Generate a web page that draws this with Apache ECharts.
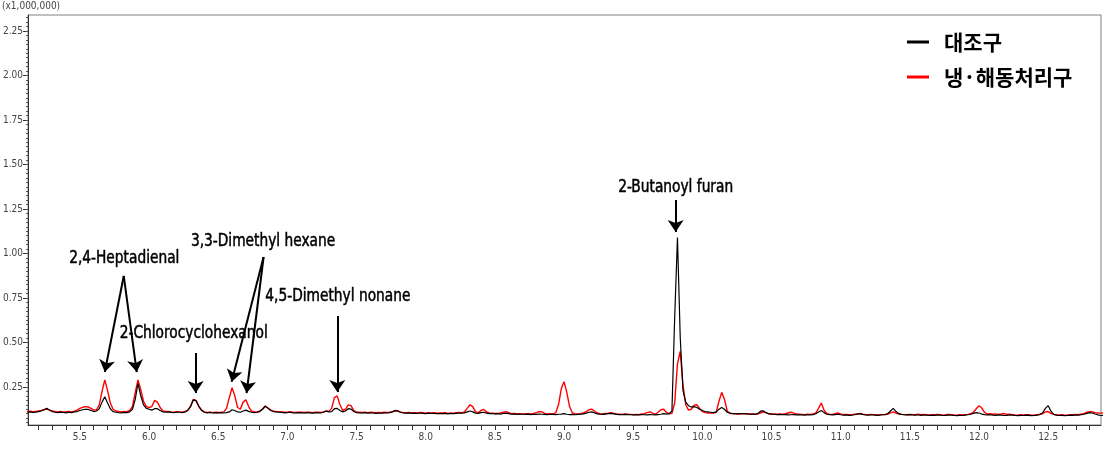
<!DOCTYPE html>
<html>
<head>
<meta charset="utf-8">
<script src="https://cdn.jsdelivr.net/npm/echarts@6/dist/echarts.min.js"></script>
<style>
html,body{margin:0;padding:0;background:#fff;}
#chart{width:1111px;height:452px;}
</style>
</head>
<body>
<div id="chart"></div>
<script>
// Retention time (min)
const retentionTimes = [
  5.12,5.14,5.16,5.18,5.20,5.22,5.24,5.26,5.28,5.30,
  5.32,5.34,5.36,5.38,5.40,5.42,5.44,5.46,5.48,5.50,
  5.52,5.54,5.56,5.58,5.60,5.62,5.64,5.66,5.68,5.70,
  5.72,5.74,5.76,5.78,5.80,5.82,5.84,5.86,5.88,5.90,
  5.92,5.94,5.96,5.98,6.00,6.02,6.04,6.06,6.08,6.10,
  6.12,6.14,6.16,6.18,6.20,6.22,6.24,6.26,6.28,6.30,
  6.32,6.34,6.36,6.38,6.40,6.42,6.44,6.46,6.48,6.50,
  6.52,6.54,6.56,6.58,6.60,6.62,6.64,6.66,6.68,6.70,
  6.72,6.74,6.76,6.78,6.80,6.82,6.84,6.86,6.88,6.90,
  6.92,6.94,6.96,6.98,7.00,7.02,7.04,7.06,7.08,7.10,
  7.12,7.14,7.16,7.18,7.20,7.22,7.24,7.26,7.28,7.30,
  7.32,7.34,7.36,7.38,7.40,7.42,7.44,7.46,7.48,7.50,
  7.52,7.54,7.56,7.58,7.60,7.62,7.64,7.66,7.68,7.70,
  7.72,7.74,7.76,7.78,7.80,7.82,7.84,7.86,7.88,7.90,
  7.92,7.94,7.96,7.98,8.00,8.02,8.04,8.06,8.08,8.10,
  8.12,8.14,8.16,8.18,8.20,8.22,8.24,8.26,8.28,8.30,
  8.32,8.34,8.36,8.38,8.40,8.42,8.44,8.46,8.48,8.50,
  8.52,8.54,8.56,8.58,8.60,8.62,8.64,8.66,8.68,8.70,
  8.72,8.74,8.76,8.78,8.80,8.82,8.84,8.86,8.88,8.90,
  8.92,8.94,8.96,8.98,9.00,9.02,9.04,9.06,9.08,9.10,
  9.12,9.14,9.16,9.18,9.20,9.22,9.24,9.26,9.28,9.30,
  9.32,9.34,9.36,9.38,9.40,9.42,9.44,9.46,9.48,9.50,
  9.52,9.54,9.56,9.58,9.60,9.62,9.64,9.66,9.68,9.70,
  9.72,9.74,9.76,9.78,9.80,9.82,9.84,9.86,9.88,9.90,
  9.92,9.94,9.96,9.98,10.00,10.02,10.04,10.06,10.08,10.10,
  10.12,10.14,10.16,10.18,10.20,10.22,10.24,10.26,10.28,10.30,
  10.32,10.34,10.36,10.38,10.40,10.42,10.44,10.46,10.48,10.50,
  10.52,10.54,10.56,10.58,10.60,10.62,10.64,10.66,10.68,10.70,
  10.72,10.74,10.76,10.78,10.80,10.82,10.84,10.86,10.88,10.90,
  10.92,10.94,10.96,10.98,11.00,11.02,11.04,11.06,11.08,11.10,
  11.12,11.14,11.16,11.18,11.20,11.22,11.24,11.26,11.28,11.30,
  11.32,11.34,11.36,11.38,11.40,11.42,11.44,11.46,11.48,11.50,
  11.52,11.54,11.56,11.58,11.60,11.62,11.64,11.66,11.68,11.70,
  11.72,11.74,11.76,11.78,11.80,11.82,11.84,11.86,11.88,11.90,
  11.92,11.94,11.96,11.98,12.00,12.02,12.04,12.06,12.08,12.10,
  12.12,12.14,12.16,12.18,12.20,12.22,12.24,12.26,12.28,12.30,
  12.32,12.34,12.36,12.38,12.40,12.42,12.44,12.46,12.48,12.50,
  12.52,12.54,12.56,12.58,12.60,12.62,12.64,12.66,12.68,12.70,
  12.72,12.74,12.76,12.78,12.80,12.82,12.84,12.86,12.88,12.90
];

// 대조구 (x1,000,000)
const controlSignal = [
  0.108,0.110,0.107,0.109,0.112,0.115,0.122,0.130,0.121,0.112,
  0.108,0.106,0.109,0.107,0.105,0.108,0.106,0.110,0.112,0.118,
  0.122,0.125,0.124,0.118,0.112,0.115,0.128,0.165,0.195,0.160,
  0.128,0.112,0.108,0.106,0.105,0.107,0.106,0.110,0.125,0.180,
  0.270,0.200,0.150,0.130,0.125,0.120,0.128,0.128,0.118,0.110,
  0.108,0.110,0.107,0.106,0.109,0.108,0.106,0.110,0.118,0.140,
  0.178,0.172,0.140,0.118,0.108,0.105,0.107,0.104,0.106,0.105,
  0.106,0.104,0.106,0.110,0.122,0.118,0.110,0.108,0.115,0.120,
  0.113,0.108,0.106,0.108,0.112,0.125,0.142,0.130,0.118,0.112,
  0.110,0.108,0.107,0.105,0.106,0.108,0.105,0.104,0.106,0.105,
  0.104,0.106,0.105,0.103,0.105,0.106,0.104,0.108,0.114,0.110,
  0.112,0.128,0.130,0.118,0.110,0.115,0.128,0.126,0.112,0.106,
  0.105,0.104,0.106,0.103,0.105,0.104,0.102,0.104,0.103,0.105,
  0.104,0.106,0.110,0.117,0.114,0.107,0.104,0.103,0.105,0.102,
  0.103,0.101,0.104,0.102,0.100,0.103,0.101,0.102,0.100,0.101,
  0.100,0.102,0.099,0.101,0.100,0.102,0.104,0.103,0.105,0.110,
  0.115,0.110,0.103,0.102,0.106,0.108,0.103,0.100,0.101,0.099,
  0.100,0.098,0.101,0.103,0.100,0.097,0.099,0.096,0.098,0.097,
  0.096,0.098,0.095,0.097,0.096,0.098,0.097,0.096,0.095,0.097,
  0.096,0.095,0.097,0.098,0.100,0.097,0.095,0.096,0.094,0.096,
  0.097,0.099,0.103,0.108,0.110,0.105,0.099,0.097,0.096,0.098,
  0.100,0.102,0.099,0.096,0.095,0.094,0.096,0.095,0.094,0.093,
  0.094,0.093,0.095,0.094,0.093,0.095,0.094,0.093,0.095,0.097,
  0.100,0.098,0.100,0.115,0.640,1.090,0.530,0.230,0.165,0.145,
  0.138,0.140,0.135,0.125,0.118,0.112,0.110,0.108,0.106,0.110,
  0.125,0.135,0.125,0.108,0.103,0.101,0.100,0.099,0.101,0.100,
  0.099,0.097,0.098,0.096,0.100,0.114,0.116,0.106,0.100,0.098,
  0.097,0.095,0.096,0.094,0.095,0.093,0.094,0.095,0.093,0.094,
  0.093,0.092,0.094,0.093,0.095,0.100,0.110,0.118,0.106,0.097,
  0.094,0.093,0.095,0.097,0.094,0.092,0.093,0.091,0.092,0.094,
  0.098,0.100,0.096,0.093,0.092,0.094,0.093,0.091,0.092,0.094,
  0.095,0.100,0.115,0.130,0.112,0.100,0.096,0.094,0.093,0.095,
  0.093,0.092,0.094,0.091,0.093,0.092,0.090,0.092,0.091,0.093,
  0.092,0.090,0.091,0.093,0.092,0.090,0.089,0.091,0.090,0.092,
  0.094,0.097,0.102,0.106,0.104,0.098,0.095,0.093,0.094,0.092,
  0.091,0.093,0.092,0.090,0.091,0.093,0.092,0.090,0.089,0.091,
  0.090,0.092,0.091,0.089,0.090,0.092,0.095,0.105,0.130,0.145,
  0.115,0.096,0.092,0.090,0.091,0.089,0.090,0.092,0.091,0.093,
  0.092,0.094,0.097,0.102,0.106,0.104,0.098,0.093,0.090,0.091
];

// 냉·해동처리구 (x1,000,000)
const freezeThawSignal = [
  0.112,0.114,0.111,0.113,0.115,0.118,0.122,0.126,0.120,0.115,
  0.113,0.110,0.112,0.109,0.111,0.113,0.110,0.114,0.120,0.130,
  0.136,0.140,0.138,0.130,0.120,0.122,0.150,0.225,0.290,0.230,
  0.160,0.125,0.115,0.112,0.110,0.112,0.111,0.118,0.140,0.220,
  0.290,0.235,0.170,0.140,0.135,0.140,0.175,0.165,0.135,0.115,
  0.113,0.112,0.110,0.109,0.111,0.110,0.109,0.112,0.120,0.142,
  0.180,0.175,0.142,0.120,0.110,0.107,0.109,0.106,0.108,0.107,
  0.108,0.110,0.130,0.190,0.246,0.200,0.135,0.125,0.165,0.178,
  0.140,0.115,0.110,0.110,0.114,0.126,0.143,0.132,0.120,0.114,
  0.112,0.111,0.110,0.108,0.109,0.111,0.108,0.107,0.109,0.108,
  0.107,0.109,0.108,0.106,0.108,0.109,0.107,0.110,0.115,0.113,
  0.130,0.190,0.200,0.150,0.118,0.125,0.150,0.145,0.118,0.109,
  0.108,0.107,0.109,0.106,0.108,0.107,0.105,0.107,0.106,0.108,
  0.107,0.108,0.112,0.118,0.115,0.109,0.106,0.105,0.107,0.104,
  0.106,0.104,0.107,0.105,0.103,0.106,0.104,0.105,0.103,0.104,
  0.104,0.105,0.102,0.104,0.103,0.105,0.107,0.106,0.110,0.130,
  0.150,0.140,0.110,0.106,0.118,0.124,0.110,0.104,0.103,0.101,
  0.102,0.104,0.108,0.112,0.106,0.100,0.101,0.099,0.100,0.099,
  0.098,0.100,0.099,0.101,0.106,0.112,0.110,0.102,0.099,0.100,
  0.099,0.105,0.150,0.240,0.280,0.220,0.140,0.105,0.100,0.098,
  0.100,0.104,0.112,0.122,0.126,0.115,0.104,0.100,0.099,0.101,
  0.103,0.106,0.102,0.098,0.097,0.096,0.098,0.097,0.096,0.095,
  0.096,0.095,0.098,0.100,0.106,0.110,0.103,0.097,0.108,0.122,
  0.125,0.108,0.100,0.102,0.160,0.380,0.450,0.260,0.150,0.120,
  0.125,0.148,0.150,0.130,0.112,0.106,0.104,0.103,0.104,0.108,
  0.170,0.220,0.180,0.115,0.102,0.100,0.099,0.098,0.100,0.099,
  0.100,0.098,0.099,0.097,0.099,0.104,0.110,0.106,0.099,0.098,
  0.098,0.097,0.099,0.097,0.100,0.104,0.108,0.103,0.098,0.097,
  0.096,0.095,0.097,0.096,0.098,0.104,0.130,0.160,0.120,0.100,
  0.097,0.096,0.100,0.104,0.099,0.095,0.096,0.094,0.095,0.097,
  0.099,0.101,0.097,0.095,0.094,0.096,0.095,0.093,0.094,0.095,
  0.095,0.098,0.105,0.110,0.103,0.098,0.096,0.095,0.094,0.096,
  0.095,0.094,0.097,0.094,0.096,0.095,0.093,0.095,0.094,0.096,
  0.094,0.092,0.094,0.096,0.095,0.093,0.092,0.094,0.093,0.095,
  0.096,0.100,0.108,0.128,0.145,0.132,0.108,0.098,0.100,0.097,
  0.099,0.096,0.098,0.101,0.096,0.097,0.095,0.093,0.092,0.094,
  0.093,0.095,0.094,0.092,0.093,0.095,0.097,0.100,0.110,0.112,
  0.102,0.096,0.094,0.093,0.094,0.092,0.093,0.095,0.094,0.096,
  0.095,0.098,0.102,0.108,0.112,0.110,0.106,0.104,0.103,0.105
];

const seriesNames = ['대조구', '냉·해동처리구'];
const xTickLabels = [5.5, 6.0, 6.5, 7.0, 7.5, 8.0, 8.5, 9.0, 9.5, 10.0, 10.5, 11.0, 11.5, 12.0, 12.5];
const yTickLabels = [0.25, 0.50, 0.75, 1.00, 1.25, 1.50, 1.75, 2.00, 2.25];
const yAxisUnit = '(x1,000,000)';

// Peak annotations (data coordinates: time, intensity)
const peakAnnotations = [
  { text: '2,4-Heptadienal', at: [5.821, 0.975],
    arrows: [[[5.817, 0.874], [5.680, 0.334]], [[5.817, 0.874], [5.911, 0.334]]] },
  { text: '2-Chlorocyclohexanol', at: [6.323, 0.553],
    arrows: [[[6.337, 0.441], [6.337, 0.216]]] },
  { text: '3,3-Dimethyl hexane', at: [6.824, 1.070],
    arrows: [[[6.828, 0.980], [6.597, 0.279]], [[6.828, 0.980], [6.705, 0.216]]] },
  { text: '4,5-Dimethyl nonane', at: [7.365, 0.761],
    arrows: [[[7.361, 0.649], [7.361, 0.222]]] },
  { text: '2-Butanoyl furan', at: [9.807, 1.374],
    arrows: [[[9.807, 1.300], [9.807, 1.121]]] }
];

const X_MIN = 5.125, X_MAX = 12.882;
const Y_MIN = 0.0365, Y_MAX = 2.34;

const controlData = retentionTimes.map((t, i) => [t, controlSignal[i]]);
const freezeThawData = retentionTimes.map((t, i) => [t, freezeThawSignal[i]]);

const xMinorTicks = [];
for (let k = 52; k <= 128; k++) xMinorTicks.push(k / 10);
const yMinorTicks = [];
for (let k = 2; k <= 93; k++) yMinorTicks.push(k * 0.025);

const arrowLines = [];
peakAnnotations.forEach(a => a.arrows.forEach(ar => {
  arrowLines.push([{ coord: ar[0] }, { coord: ar[1] }]);
}));

const narrow = "'DejaVu Sans Condensed', 'Liberation Sans Narrow', sans-serif";

const chart = echarts.init(document.getElementById('chart'), null, { renderer: 'canvas' });
chart.setOption({
  animation: false,
  backgroundColor: '#fff',
  grid: { left: 26, right: 10, top: 15, bottom: 27, show: true, borderColor: '#808080', borderWidth: 1 },
  graphic: [{
    id: 'unit', type: 'text', left: 2, top: 1,
    style: { text: yAxisUnit, fontSize: 10, fill: '#444', fontFamily: narrow }
  }],
  legend: {
    data: seriesNames,
    orient: 'vertical',
    left: 902, top: 26,
    icon: 'rect',
    itemWidth: 22, itemHeight: 3,
    itemGap: 13,
    selectedMode: false,
    textStyle: {
      fontSize: 21, fontWeight: 'bold', color: '#000', lineHeight: 22,
      fontFamily: "'Noto Sans CJK KR', sans-serif", padding: [0, 0, 0, 10]
    }
  },
  xAxis: [{
    type: 'value', min: X_MIN, max: X_MAX,
    axisLine: { show: true, onZero: false, lineStyle: { color: '#333', width: 1 } },
    axisTick: { show: true, customValues: xMinorTicks, length: 5, inside: false, lineStyle: { color: '#333' } },
    axisLabel: { customValues: xTickLabels, formatter: v => v.toFixed(1), fontSize: 10, color: '#444', margin: 7, fontFamily: narrow },
    splitLine: { show: false }
  }],
  yAxis: [{
    type: 'value', min: Y_MIN, max: Y_MAX,
    axisLine: { show: true, onZero: false, lineStyle: { color: '#333', width: 1 } },
    axisTick: { show: true, customValues: yTickLabels, length: 5, lineStyle: { color: '#333' } },
    axisLabel: { customValues: yTickLabels, formatter: v => v.toFixed(2), fontSize: 10, color: '#444', margin: 5, fontFamily: narrow },
    splitLine: { show: false }
  }, {
    type: 'value', min: Y_MIN, max: Y_MAX, position: 'left',
    axisLine: { show: false },
    axisTick: { show: true, customValues: yMinorTicks, length: 2, lineStyle: { color: '#555' } },
    axisLabel: { show: false },
    splitLine: { show: false }
  }],
  series: [{
    name: seriesNames[1], type: 'line', data: freezeThawData,
    symbol: 'none', showSymbol: false,
    lineStyle: { color: '#ff0000', width: 1.4 }, itemStyle: { color: '#ff0000' },
    z: 2
  }, {
    name: seriesNames[0], type: 'line', data: controlData,
    symbol: 'none', showSymbol: false,
    lineStyle: { color: '#000000', width: 1.2 }, itemStyle: { color: '#000000' },
    z: 3,
    markLine: {
      silent: true, animation: false,
      symbol: ['none', 'arrow'], symbolSize: 12,
      lineStyle: { color: '#000', width: 2, type: 'solid' },
      label: { show: false },
      emphasis: { disabled: true },
      data: arrowLines
    }
  }]
});

// Peak name labels, placed at their data coordinates
const labelGraphics = peakAnnotations.map((a, i) => {
  const p = chart.convertToPixel({ xAxisIndex: 0, yAxisIndex: 0 }, a.at);
  return {
    id: 'peak' + i, type: 'text', x: p[0], y: p[1], scaleX: 0.85, z: 1, silent: true,
    style: {
      text: a.text, fontSize: 18, fontFamily: narrow, fill: '#000',
      stroke: '#000', lineWidth: 0.5,
      align: 'center', verticalAlign: 'middle'
    }
  };
});
chart.setOption({ graphic: labelGraphics });
</script>
</body>
</html>
